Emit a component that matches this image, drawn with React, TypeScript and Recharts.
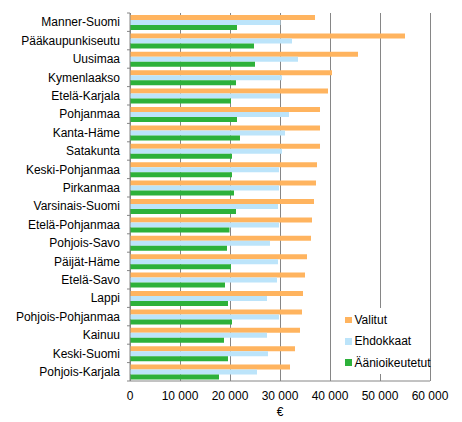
import React from "react";
import { BarChart, Bar, XAxis, YAxis, CartesianGrid } from "recharts";

// Alueet ylhäältä alas
const categories = [
  "Manner-Suomi",
  "Pääkaupunkiseutu",
  "Uusimaa",
  "Kymenlaakso",
  "Etelä-Karjala",
  "Pohjanmaa",
  "Kanta-Häme",
  "Satakunta",
  "Keski-Pohjanmaa",
  "Pirkanmaa",
  "Varsinais-Suomi",
  "Etelä-Pohjanmaa",
  "Pohjois-Savo",
  "Päijät-Häme",
  "Etelä-Savo",
  "Lappi",
  "Pohjois-Pohjanmaa",
  "Kainuu",
  "Keski-Suomi",
  "Pohjois-Karjala",
];

const valitut = [
  37000, 55000, 45600, 40400, 39600, 38000, 38000, 38000, 37400, 37200,
  36800, 36400, 36200, 35400, 35000, 34600, 34400, 34000, 33000, 32000,
];
const ehdokkaat = [
  30100, 32400, 33600, 30400, 30000, 31800, 31000, 30400, 29800, 29800,
  29600, 29800, 28000, 29600, 29400, 27400, 29800, 27400, 27600, 25400,
];
const aanioikeutetut = [
  21400, 24800, 25000, 21200, 20200, 21400, 22000, 20400, 20400, 20800,
  21200, 19900, 19400, 20200, 19000, 19600, 20400, 18800, 19600, 17800,
];

const xTicks = [0, 10000, 20000, 30000, 40000, 50000, 60000];

const series = [
  { key: "valitut", name: "Valitut", color: "#ffb45f" },
  { key: "ehdokkaat", name: "Ehdokkaat", color: "#bce4fa" },
  { key: "aanioikeutetut", name: "Äänioikeutetut", color: "#2db13a" },
];

const data = categories.map((name, i) => ({
  name,
  valitut: valitut[i],
  ehdokkaat: ehdokkaat[i],
  aanioikeutetut: aanioikeutetut[i],
}));

const W = 454;
const H = 414;
const MARGIN = { top: 5, right: 32, bottom: 0, left: 0 };
const X_AXIS_H = 41;
const Y_AXIS_W = 122;
const BAND = (H - MARGIN.top - MARGIN.bottom - X_AXIS_H) / categories.length;
const GRID = "#868686";

const fmt = (v: number) => String(v).replace(/\B(?=(\d{3})+(?!\d))/g, " ");

const YTick = (props: any) => {
  const { x, y, payload, index } = props;
  const last = index === categories.length - 1;
  return (
    <g>
      <line x1={x + 5} x2={x + 8} y1={y - BAND / 2} y2={y - BAND / 2} stroke={GRID} />
      {last && <line x1={x + 5} x2={x + 8} y1={y + BAND / 2} y2={y + BAND / 2} stroke={GRID} />}
      <text x={x - 2} y={y} dy="0.355em" textAnchor="end" fill="#000" fontSize={12}>
        {payload.value}
      </text>
    </g>
  );
};

const XTick = (props: any) => {
  const { x, y, payload } = props;
  return (
    <text x={x} y={y + 11} textAnchor="middle" fill="#000" fontSize={12}>
      {fmt(payload.value)}
    </text>
  );
};

const App: React.FC = () => {
  return (
    <div style={{ position: "relative", width: W, height: H, fontFamily: "'Liberation Sans', Arial, sans-serif" }}>
      <BarChart
        layout="vertical"
        width={W}
        height={H}
        data={data}
        margin={MARGIN}
        barGap={0}
        barSize={5}
      >
        <CartesianGrid horizontal={false} stroke={GRID} shapeRendering="crispEdges" />
        <XAxis
          type="number"
          domain={[0, 60000]}
          ticks={xTicks}
          interval={0}
          height={X_AXIS_H}
          axisLine={{ stroke: GRID }}
          tickLine={false}
          tick={<XTick />}
          label={{ value: "€", position: "insideBottom", offset: 6, fill: "#000", fontSize: 12 }}
        />
        <YAxis
          type="category"
          dataKey="name"
          width={Y_AXIS_W}
          interval={0}
          axisLine={{ stroke: GRID }}
          tickLine={false}
          tick={<YTick />}
        />
        {series.map((s) => (
          <Bar key={s.key} dataKey={s.key} name={s.name} fill={s.color} isAnimationActive={false} />
        ))}
      </BarChart>
      {/* Selite */}
      <div
        style={{
          position: "absolute",
          left: 325,
          top: 300,
          width: 95,
          height: 66,
          background: "#fff",
          fontSize: 12,
        }}
      >
        {series.map((s, i) => (
          <div
            key={s.key}
            style={{
              position: "absolute",
              left: 12,
              top: 5 + i * 21.3,
              height: 14,
              display: "flex",
              alignItems: "center",
              whiteSpace: "nowrap",
            }}
          >
            <span style={{ width: 6.5, height: 6.5, background: s.color, marginRight: 3 }} />
            <span>{s.name}</span>
          </div>
        ))}
      </div>
    </div>
  );
};

export default App;
